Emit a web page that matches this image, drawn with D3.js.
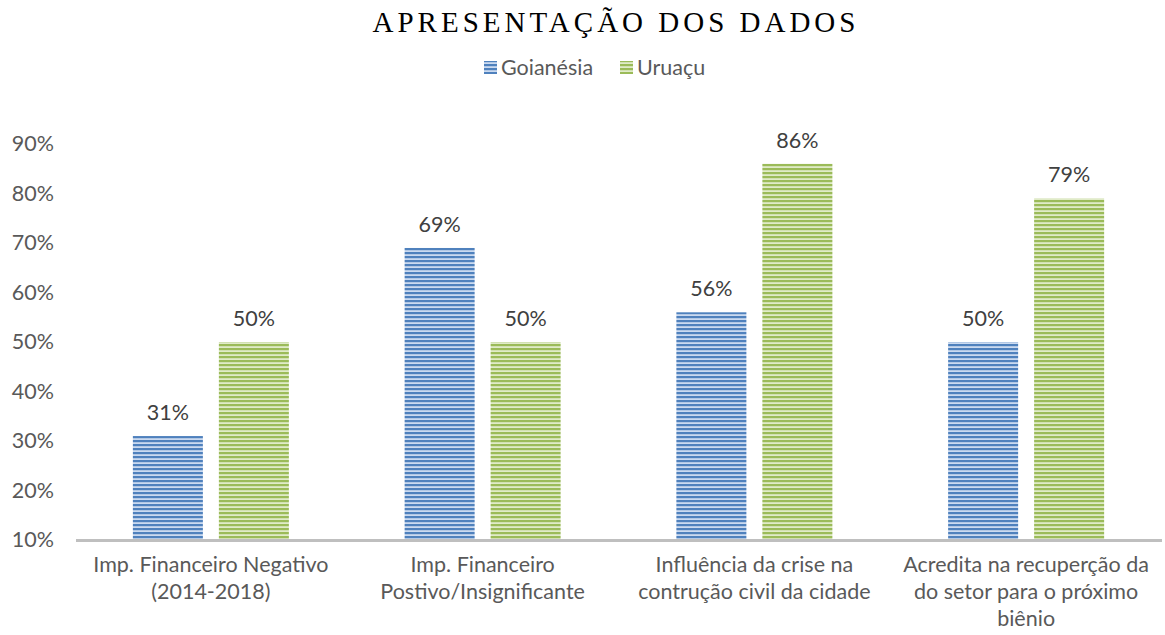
<!DOCTYPE html>
<html>
<head>
<meta charset="utf-8">
<script src="https://cdn.jsdelivr.net/npm/d3@7"></script>
<style>
  body { margin: 0; background: #fff; }
  svg { display: block; }
</style>
</head>
<body>
<div id="chart"></div>
<script>
const categories = [
    ['Imp. Financeiro Negativo', '(2014-2018)'],
    ['Imp. Financeiro', 'Postivo/Insignificante'],
    ['Influência da crise na', 'contrução civil da cidade'],
    ['Acredita na recuperção da', 'do setor para o próximo', 'biênio']
];
const seriesNames = ['Goianésia', 'Uruaçu'];
const goianesia = [31, 69, 56, 50];
const uruacu = [50, 50, 86, 79];
const yTicks = [10, 20, 30, 40, 50, 60, 70, 80, 90];

const width = 1165, height = 635;
const margin = { top: 144, right: 3, bottom: 95, left: 75 };
const font = "Lato, 'Open Sans', sans-serif";
const fontSize = '21.5px';

const svg = d3.select('#chart')
    .append('svg')
    .attr('width', width)
    .attr('height', height);

// striped fills
const defs = svg.append('defs');
const fills = [
    { id: 'stripe-blue', dark: '#4f81bd', light: '#cbdaf0' },
    { id: 'stripe-green', dark: '#9bbb59', light: '#e0ebc8' }
];
fills.forEach(f => {
    const p = defs.append('pattern')
        .attr('id', f.id)
        .attr('patternUnits', 'userSpaceOnUse')
        .attr('width', 8)
        .attr('height', 4);
    p.append('rect').attr('width', 8).attr('height', 4).attr('fill', f.light);
    p.append('rect').attr('y', 0).attr('width', 8).attr('height', 2.2).attr('fill', f.dark);
});

const y = d3.scaleLinear()
    .domain([10, 90])
    .range([540, 144]);

// each category 272 wide with the pair of bars centered
const x0 = d3.scaleBand()
    .domain(d3.range(categories.length))
    .range([margin.left, width - margin.right]);
const pairWidth = 156;
const groupX = i => x0(i) + (x0.step() - pairWidth) / 2;
const x1 = d3.scaleBand()
    .domain(seriesNames)
    .range([0, pairWidth])
    .paddingInner(0.186);

// title
svg.append('text')
    .attr('x', 616)
    .attr('y', 32)
    .attr('text-anchor', 'middle')
    .style('font-family', "'Liberation Serif', 'Times New Roman', serif")
    .style('font-size', '29px')
    .style('letter-spacing', '4px')
    .attr('fill', '#000')
    .text('APRESENTAÇÃO DOS DADOS');

// legend
const legend = svg.append('g').style('font-family', font).style('font-size', fontSize);
const legendItems = [
    { name: seriesNames[0], x: 484, fill: 'url(#stripe-blue)' },
    { name: seriesNames[1], x: 620, fill: 'url(#stripe-green)' }
];
legendItems.forEach(d => {
    legend.append('rect')
        .attr('x', d.x).attr('y', 61)
        .attr('width', 13).attr('height', 13)
        .attr('fill', d.fill);
    legend.append('text')
        .attr('x', d.x + 17).attr('y', 75)
        .attr('fill', '#595959')
        .text(d.name);
});

// y axis labels
svg.append('g')
    .selectAll('text')
    .data(yTicks)
    .enter()
    .append('text')
    .attr('x', 54)
    .attr('y', d => y(d) + 7)
    .attr('text-anchor', 'end')
    .style('font-family', font)
    .style('font-size', fontSize)
    .attr('fill', '#595959')
    .text(d => d + '%');

// bars
const seriesData = [goianesia, uruacu];
const seriesFill = ['url(#stripe-blue)', 'url(#stripe-green)'];
seriesData.forEach((vals, s) => {
    const g = svg.append('g');
    g.selectAll('rect')
        .data(vals)
        .enter()
        .append('rect')
        .attr('x', (d, i) => groupX(i) + x1(seriesNames[s]))
        .attr('y', d => y(d))
        .attr('width', x1.bandwidth())
        .attr('height', d => y(10) - y(d))
        .attr('fill', seriesFill[s]);

    g.selectAll('text')
        .data(vals)
        .enter()
        .append('text')
        .attr('x', (d, i) => groupX(i) + x1(seriesNames[s]) + x1.bandwidth() / 2)
        .attr('y', d => y(d) - 16)
        .attr('text-anchor', 'middle')
        .style('font-family', font)
        .style('font-size', fontSize)
        .attr('fill', '#404040')
        .text(d => d + '%');
});

// axis line
svg.append('line')
    .attr('x1', margin.left + 1)
    .attr('x2', width - margin.right)
    .attr('y1', y(10) + 0.5)
    .attr('y2', y(10) + 0.5)
    .attr('stroke', '#bfbfbf')
    .attr('stroke-width', 3);

// category labels
const catG = svg.append('g')
    .style('font-family', font)
    .style('font-size', fontSize)
    .attr('fill', '#595959');
categories.forEach((lines, i) => {
    const cx = x0(i) + x0.step() / 2;
    const t = catG.append('text')
        .attr('x', cx)
        .attr('y', 572)
        .attr('text-anchor', 'middle');
    lines.forEach((line, j) => {
        t.append('tspan')
            .attr('x', cx)
            .attr('dy', j === 0 ? 0 : 27)
            .text(line);
    });
});
</script>
</body>
</html>
